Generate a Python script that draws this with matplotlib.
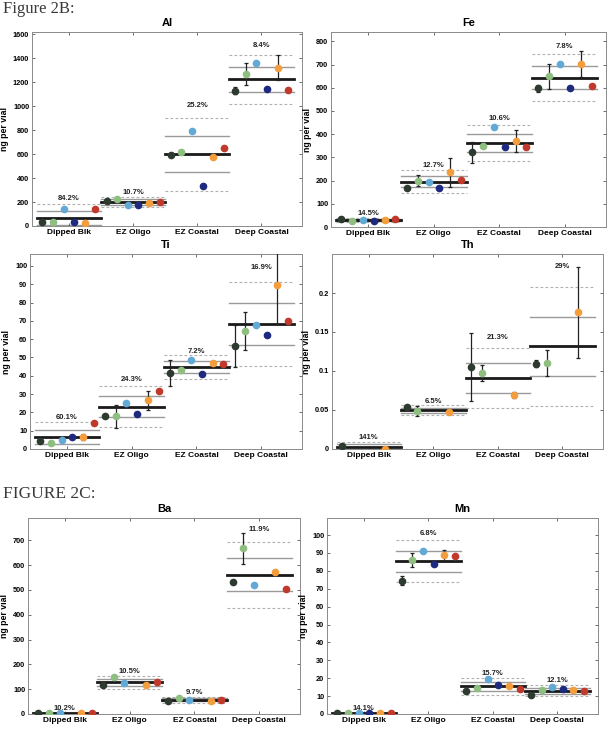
import numpy as np
import matplotlib
matplotlib.use("Agg")
import matplotlib.pyplot as plt

nan = np.nan

groups = ["Dipped Blk", "EZ Oligo", "EZ Coastal", "Deep Coastal"]
colors = ["#2c3a30", "#8fbf80", "#62a9d6", "#1d2a80", "#f39d3c", "#c0392b"]

# Al
al_vals = [[36, 31, 139, 33, 22, 139], [206, 223, 173, 175, 189, 200],
           [593, 615, 796, 334, 573, 654], [1130, 1269, 1358, 1146, 1322, 1135]]
al_err = [[nan] * 6, [nan] * 6, [nan] * 6, [30, 95, nan, nan, 103, nan]]
al_mean = [70, 200, 598, 1226]
al_sd = [58, 21.4, 151, 103]
al_cv = ["84.2%", "10.7%", "25.2%", "8.4%"]

# Fe
fe_vals = [[36, 26, 32, 26, 29, 33], [170, 200, 192, 167, 236, 202],
           [321, 347, 429, 343, 372, 343], [598, 650, 703, 597, 702, 608]]
fe_err = [[6, nan, nan, nan, nan, nan], [nan, 23, nan, nan, 63, nan],
          [45, nan, nan, nan, 47, nan], [15, 54, nan, nan, 57, nan]]
fe_mean = [30, 195, 362, 644]
fe_sd = [4.4, 24.8, 38.4, 50.2]
fe_cv = ["14.5%", "12.7%", "10.6%", "7.8%"]

# Ti
ti_vals = [[4.2, 3.5, 4.7, 6.5, 6.5, 14.4], [17.8, 17.8, 25.1, 18.9, 26.5, 31.5],
           [41.5, 43.3, 48.4, 40.9, 46.9, 46.5], [56.2, 64.2, 67.6, 62.0, 89.8, 70.0]]
ti_err = [[nan, nan, nan, nan, 1.8, nan], [nan, 6.5, nan, nan, 5, nan],
          [7.3, nan, nan, nan, nan, nan], [11.4, 10.4, nan, nan, 21.8, nan]]
ti_mean = [6.6, 23.1, 44.7, 68.2]
ti_sd = [4.0, 5.6, 3.2, 11.5]
ti_cv = ["60.1%", "24.3%", "7.2%", "16.9%"]

# Th
th_vals = [[0.0043, nan, nan, nan, 0.0, nan], [0.0536, 0.0485, nan, nan, 0.0477, nan],
           [0.1047, 0.0974, nan, nan, 0.069, nan], [0.1094, 0.110, nan, nan, 0.1753, nan]]
th_err = [[nan] * 6, [0.002, 0.006, nan, nan, nan, nan],
          [0.0436, 0.0106, nan, nan, 0.004, nan], [0.0045, 0.017, nan, nan, 0.058, nan]]
th_mean = [0.0025, 0.0494, 0.0906, 0.1315]
th_sd = [0.0035, 0.0032, 0.0193, 0.038]
th_cv = ["141%", "6.5%", "21.3%", "29%"]

# Ba (no navy sample)
ba_vals = [[3, 3, 3, nan, 3, 3], [118, 151, 123, nan, 117, 128],
           [54, 64, 57, nan, 54, 57], [534, 668, 519, nan, 572, 503]]
ba_err = [[nan] * 6, [8, nan, nan, nan, nan, nan], [nan] * 6, [nan, 63, nan, nan, 10, nan]]
ba_mean = [3, 127, 57, 561]
ba_sd = [0.3, 13.3, 5.5, 67]
ba_cv = ["10.2%", "10.5%", "9.7%", "11.9%"]

# Mn
mn_vals = [[0.6, 0.5, 0.5, 0.7, 0.5, 0.5], [74.5, 86, 91, 84, 88.6, 88],
           [12.7, 14.6, 19.4, 16.4, 15.5, 14.2], [10.4, 13.6, 14.9, 14.0, 13.4, 12.7]]
mn_err = [[nan] * 6, [2.5, 3.8, nan, nan, 3.2, nan], [nan] * 6, [nan] * 6]
mn_mean = [0.55, 85.4, 15.5, 13.0]
mn_sd = [0.08, 5.8, 2.4, 1.6]
mn_cv = ["14.1%", "6.8%", "15.7%", "12.1%"]

W, H = 609, 754
plt.rcParams["font.family"] = ["Liberation Sans", "DejaVu Sans"]
plt.rcParams["font.weight"] = "bold"
fig = plt.figure(figsize=(W / 100, H / 100), dpi=100)


def box(l, r, t, b):
    return [l / W, 1 - b / H, (r - l) / W, (b - t) / H]


def panel(rect, title, vals, err, mean, sd, cv, ylim, yticks, ylabels=None):
    ax = fig.add_axes(rect)
    offs = -0.41 + 0.165 * np.arange(6)
    for i in range(4):
        c = i + 1
        x0, x1 = c - 0.5, c + 0.5
        m, s = mean[i], sd[i]
        # +-2 sd dashed, +-1 sd solid, mean thick
        ax.plot([x0, x1], [m + 2 * s] * 2, color="#b0b0b0", lw=0.8, ls=(0, (2.5, 2)), zorder=1)
        ax.plot([x0, x1], [m - 2 * s] * 2, color="#b0b0b0", lw=0.8, ls=(0, (2.5, 2)), zorder=1)
        ax.plot([x0, x1], [m + s] * 2, color="#9a9a9a", lw=1.0, zorder=1)
        ax.plot([x0, x1], [m - s] * 2, color="#9a9a9a", lw=1.0, zorder=1)
        ax.plot([x0, x1], [m, m], color="#1a1a1a", lw=2.0, zorder=2)
        for k in range(6):
            v = vals[i][k]
            if np.isnan(v):
                continue
            x = c + offs[k]
            e = err[i][k]
            if not np.isnan(e):
                ax.errorbar(x, v, yerr=e, fmt="none", ecolor="#222222", elinewidth=0.9,
                            capsize=1.6, capthick=0.9, zorder=3)
            ax.plot(x, v, "o", ms=4.5, color=colors[k], mec=colors[k], zorder=4)
        ty = m + 2 * s + max(0.7 * s, 0.022 * ylim)
        ax.text(c, ty, cv[i], ha="center", va="center", fontsize=5.5, fontweight="bold", color="#222222")
    ax.set_xlim(0.43, 4.63)
    ax.set_ylim(0, ylim)
    ax.set_xticks([1, 2, 3, 4])
    ax.set_xticklabels(groups)
    ax.set_yticks(yticks)
    if ylabels is not None:
        ax.set_yticklabels(ylabels)
    ax.tick_params(direction="in", top=True, right=True, length=2.5, width=0.6,
                   labelsize=5.3, pad=2, color="#555555")
    ax.tick_params(axis="x", labelsize=6)
    for sp in ax.spines.values():
        sp.set_color("#8a8a8a")
        sp.set_linewidth(0.7)
    ax.set_title(title, fontsize=8, fontweight="bold", pad=4)
    ax.set_ylabel("ng per vial", fontsize=6.3, fontweight="bold", labelpad=3)
    return ax


panel(box(32, 302, 32, 226), "Al", al_vals, al_err, al_mean, al_sd, al_cv,
      1620, np.arange(0, 1601, 200))
panel(box(331, 606, 32, 227), "Fe", fe_vals, fe_err, fe_mean, fe_sd, fe_cv,
      840, np.arange(0, 801, 100))
panel(box(30, 302, 254, 449), "Ti", ti_vals, ti_err, ti_mean, ti_sd, ti_cv,
      106.5, np.arange(0, 101, 10))
panel(box(332, 603, 254, 449), "Th", th_vals, th_err, th_mean, th_sd, th_cv,
      0.25, [0, 0.05, 0.1, 0.15, 0.2], ["0", "0.05", "0.1", "0.15", "0.2"])
panel(box(28, 300, 518, 714), "Ba", ba_vals, ba_err, ba_mean, ba_sd, ba_cv,
      790, np.arange(0, 701, 100))
panel(box(327, 598, 518, 714), "Mn", mn_vals, mn_err, mn_mean, mn_sd, mn_cv,
      109.5, np.arange(0, 101, 10))

fig.text(3 / W, 1 - 13 / H, "Figure 2B:", family="Liberation Serif", fontsize=12,
         fontweight="normal", color="#3a3a3a", va="baseline")
fig.text(3 / W, 1 - 498 / H, "FIGURE 2C:", family="Liberation Serif", fontsize=12.5,
         fontweight="normal", color="#3a3a3a", va="baseline")

fig.savefig("out.png", dpi=100)
